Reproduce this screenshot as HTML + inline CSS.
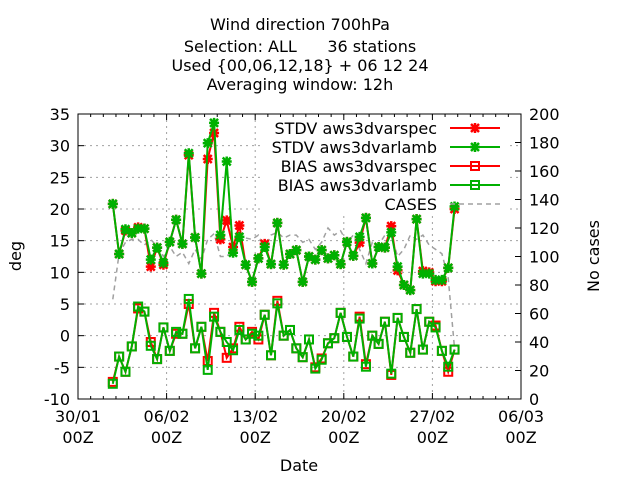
<!DOCTYPE html>
<html><head><meta charset="utf-8"><style>
body{margin:0;background:#fff;}
svg text{font-family:"DejaVu Sans","Liberation Sans",sans-serif;font-size:16px;fill:#000;white-space:pre;}
</style></head><body>
<svg id="chart" width="640" height="480" xmlns="http://www.w3.org/2000/svg" xml:space="preserve">
<g>
<text x="300" y="30" text-anchor="middle">Wind direction 700hPa</text>
<text x="300" y="52" text-anchor="middle">Selection: ALL      36 stations</text>
<text x="300" y="71" text-anchor="middle">Used {00,06,12,18} + 06 12 24</text>
<text x="300" y="90" text-anchor="middle">Averaging window: 12h</text>
</g>
<g id="grid"></g>
<g id="axes"></g>
<g id="series"></g>
<g id="legend"></g>
<text x="299" y="471" text-anchor="middle">Date</text>
<text transform="translate(21,256) rotate(-90)" text-anchor="middle">deg</text>
<text transform="translate(599,256) rotate(-90)" text-anchor="middle">No cases</text>
</svg>
<script>
const xTickLabels=["30/01","06/02","13/02","20/02","27/02","06/03"];
const yTicks=[-10,-5,0,5,10,15,20,25,30,35];
const y2Ticks=[0,20,40,60,80,100,120,140,160,180,200];
const startDay=2.75;
const stdvLamb=[20.8,12.9,16.8,16.2,16.9,16.9,12.0,13.9,11.5,14.8,18.3,14.5,28.8,15.5,9.8,30.4,33.6,15.9,27.5,13.1,15.6,11.2,8.5,12.2,14.0,11.3,17.8,11.2,12.9,13.5,8.5,12.5,12.0,13.5,12.2,12.7,11.3,14.8,12.6,15.6,18.6,11.4,14.0,13.9,16.3,10.9,8.0,7.2,18.4,9.8,9.8,8.8,8.8,10.7,20.4];
const stdvSpec=[20.8,12.9,16.6,16.2,17.1,16.9,10.9,13.9,11.2,14.8,18.3,14.5,28.5,15.5,9.8,27.9,32.0,15.2,18.2,14.0,17.4,11.2,8.5,12.2,14.5,11.3,17.8,11.2,12.9,13.5,8.5,12.5,12.0,13.5,12.2,12.7,11.3,14.8,12.6,14.7,18.6,11.4,14.0,13.9,17.3,10.3,8.0,7.2,18.4,10.2,10.0,8.6,8.6,10.7,20.0];
const biasLamb=[-7.6,-3.3,-5.7,-1.7,4.6,3.8,-1.6,-3.7,1.3,-2.4,0.6,0.3,5.8,-2.0,1.4,-5.4,3.0,0.6,-1.0,-2.3,0.9,-0.6,0.3,0.0,3.3,-3.1,5.1,0.0,0.9,-2.0,-3.4,-0.6,-5.2,-3.8,-1.2,-0.4,3.6,-0.2,-3.3,2.7,-4.9,0.0,-1.3,2.2,-6.0,2.8,-0.2,-2.7,4.2,-2.2,2.2,1.3,-2.4,-4.9,-2.2];
const biasSpec=[-7.3,-3.3,-5.7,-1.7,4.3,3.8,-1.0,-3.7,1.3,-2.4,0.3,0.3,5.0,-2.0,1.4,-4.0,3.6,0.6,-3.5,-2.0,1.4,-0.6,0.6,-0.6,3.3,-3.1,5.5,0.0,0.9,-2.0,-3.4,-0.6,-5.0,-3.6,-1.2,-0.4,3.6,-0.2,-3.3,3.0,-4.5,0.0,-1.3,2.2,-6.2,2.8,-0.2,-2.7,4.2,-2.2,2.2,1.6,-2.4,-5.7,-2.2];
const cases=[70,102,110,112,112,108,112,107,100,107,100,103,95,105,98,112,116,100,100,105,112,113,112,115,105,115,117,113,115,115,110,112,105,110,120,115,118,110,115,105,95,110,108,115,115,100,105,115,112,115,108,105,102,85,35];

const NS="http://www.w3.org/2000/svg";
const L=78,R=521,T=114,B=399;
const xs=d=>L+d*(R-L)/35;
const ys=v=>B-(v+10)*(B-T)/45;
const y2s=c=>B-c*(B-T)/200;
const tx=i=>xs(startDay+i*0.5);
function mk(p,tag,a){const e=document.createElementNS(NS,tag);for(const k in a)e.setAttribute(k,a[k]);p.appendChild(e);return e;}
const grid=document.getElementById('grid'),axes=document.getElementById('axes'),series=document.getElementById('series'),legend=document.getElementById('legend');
yTicks.forEach(v=>{
  const y=ys(v);
  if(v>-10&&v<35){const g=mk(grid,'line',{x1:L,x2:R,y1:y,y2:y,stroke:'#a0a0a0','stroke-dasharray':'2,4','stroke-width':1});
  
  }
  mk(axes,'line',{x1:L,x2:L+6,y1:y,y2:y,stroke:'#000'});
  const t=mk(axes,'text',{x:L-8,y:y+6,'text-anchor':'end'});t.textContent=v;
  
  
});
y2Ticks.forEach(c=>{
  const y=y2s(c);
  mk(axes,'line',{x1:R-6,x2:R,y1:y,y2:y,stroke:'#000'});
  const t=mk(axes,'text',{x:R+8,y:y+6,'text-anchor':'start'});t.textContent=c;
  
  
});
for(let d=0;d<=35;d++){const x=xs(d);const major=d%7==0;
  mk(axes,'line',{x1:x,x2:x,y1:B,y2:B-(major?6:3),stroke:'#000'});
  mk(axes,'line',{x1:x,x2:x,y1:T,y2:T+(major?6:3),stroke:'#000'});
  if(major){const k=d/7;
    if(k>0&&k<5){const g=mk(grid,'line',{x1:x,x2:x,y1:T,y2:B,stroke:'#a0a0a0','stroke-dasharray':'2,4'});
    
    }
    const t=mk(axes,'text',{x:x,y:422,'text-anchor':'middle'});t.textContent=xTickLabels[k];
    
    
    const t2=mk(axes,'text',{x:x,y:443,'text-anchor':'middle'});t2.textContent='00Z';
    
    }
}
const fr=mk(axes,'rect',{x:L,y:T,width:R-L,height:B-T,fill:'none',stroke:'#000'});


mk(grid,'rect',{x:262,y:116,width:244,height:98,fill:'#fff'});
function star(p,x,y,col){mk(p,'path',{d:`M${x-4} ${y-4}L${x+4} ${y+4}M${x-4} ${y+4}L${x+4} ${y-4}M${x-5} ${y}L${x+5} ${y}M${x} ${y-5}L${x} ${y+5}`,stroke:col,'stroke-width':2.5});}
function box(p,x,y,col){mk(p,'rect',{x:x-4,y:y-4,width:8,height:8,fill:'none',stroke:col,'stroke-width':2});}
function draw(vals,scale,col,mark,name,dash){
  const g=mk(series,'g',{});
  
  
  const pts=vals.map((v,i)=>tx(i).toFixed(1)+','+scale(v).toFixed(1)).join(' ');
  const a={points:pts,fill:'none',stroke:col,'stroke-width':dash?1.5:2};
  if(dash)a['stroke-dasharray']='5,4';
  mk(g,'polyline',a);
  if(mark)vals.forEach((v,i)=>mark(g,tx(i),scale(v),col));
}
const red='#ff0000',green='#00b000',gray='#a0a0a0';
draw(cases,y2s,gray,null,'cases-line',true);
draw(stdvSpec,ys,red,star,'stdv-aws3dvarspec-line');
draw(stdvLamb,ys,green,star,'stdv-aws3dvarlamb-line');
draw(biasSpec,ys,red,box,'bias-aws3dvarspec-line');
draw(biasLamb,ys,green,box,'bias-aws3dvarlamb-line');
const leg=[["STDV aws3dvarspec",red,star],["STDV aws3dvarlamb",green,star],["BIAS aws3dvarspec",red,box],["BIAS aws3dvarlamb",green,box],["CASES",gray,null]];
leg.forEach((e,i)=>{const y=128+i*19;
  const g=mk(legend,'g',{});
  
  
  const t=mk(g,'text',{x:437,y:y+6,'text-anchor':'end'});t.textContent=e[0];
  const a={x1:450,x2:500,y1:y,y2:y,stroke:e[1],'stroke-width':e[2]?2:1.5};
  if(!e[2])a['stroke-dasharray']='5,4';
  mk(g,'line',a);
  if(e[2])e[2](g,475,y,e[1]);
});
</script>
</body></html>
